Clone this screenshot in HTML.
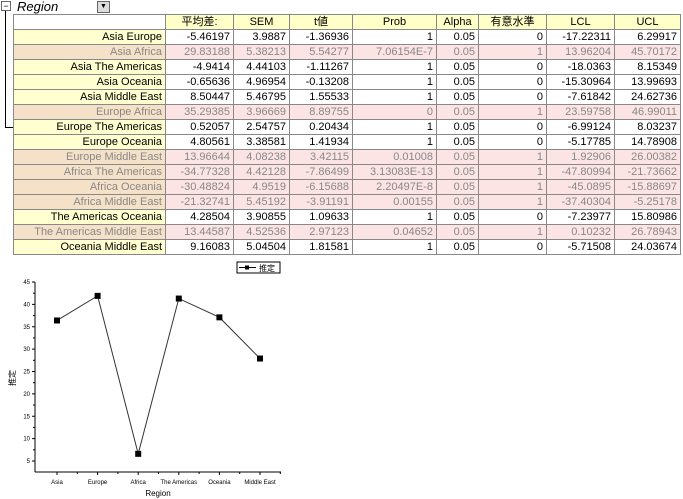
<!DOCTYPE html>
<html><head><meta charset="utf-8"><style>
body{margin:0;width:683px;height:499px;background:#fff;position:relative;overflow:hidden;font-family:"Liberation Sans","Noto Sans CJK JP",sans-serif}
table{position:absolute;left:13px;top:14px;border-collapse:collapse;font-size:11px;table-layout:fixed}
td{border:1px solid #888;height:14px;padding:0 3px;text-align:right;white-space:nowrap;overflow:hidden;line-height:14px}
tr.h td{background:#ffffc8;text-align:center}
td.rh{background:#ffffd0}
tr.s td{background:#fce4e4;color:#888}
tr.s td.rh{background:#f5e1c8}
tr.h td.rh{background:#fff}
</style></head><body>
<div style="position:absolute;left:1px;top:1px;width:8px;height:8px;border:1px solid #666;font-size:9px;line-height:8px;text-align:center">−</div>
<div style="position:absolute;left:5px;top:11px;width:8px;height:116px;border-left:1px solid #000;border-bottom:1px solid #000"></div>
<div style="position:absolute;left:17px;top:-1px;font-size:13px;font-style:italic">Region</div>
<div style="position:absolute;left:97px;top:1px;width:11px;height:10px;border:1px solid #666;background:#ddd;font-size:7px;line-height:10px;text-align:center">▼</div>
<table>
<colgroup><col style="width:152px"><col style="width:68px"><col style="width:56px"><col style="width:63px"><col style="width:84px"><col style="width:42px"><col style="width:68px"><col style="width:68px"><col style="width:66px"></colgroup>
<tr class="h"><td class="rh"></td><td>平均差:</td><td>SEM</td><td>t値</td><td>Prob</td><td>Alpha</td><td>有意水準</td><td>LCL</td><td>UCL</td></tr>
<tr><td class="rh">Asia Europe</td><td>-5.46197</td><td>3.9887</td><td>-1.36936</td><td>1</td><td>0.05</td><td>0</td><td>-17.22311</td><td>6.29917</td></tr>
<tr class="s"><td class="rh">Asia Africa</td><td>29.83188</td><td>5.38213</td><td>5.54277</td><td>7.06154E-7</td><td>0.05</td><td>1</td><td>13.96204</td><td>45.70172</td></tr>
<tr><td class="rh">Asia The Americas</td><td>-4.9414</td><td>4.44103</td><td>-1.11267</td><td>1</td><td>0.05</td><td>0</td><td>-18.0363</td><td>8.15349</td></tr>
<tr><td class="rh">Asia Oceania</td><td>-0.65636</td><td>4.96954</td><td>-0.13208</td><td>1</td><td>0.05</td><td>0</td><td>-15.30964</td><td>13.99693</td></tr>
<tr><td class="rh">Asia Middle East</td><td>8.50447</td><td>5.46795</td><td>1.55533</td><td>1</td><td>0.05</td><td>0</td><td>-7.61842</td><td>24.62736</td></tr>
<tr class="s"><td class="rh">Europe Africa</td><td>35.29385</td><td>3.96669</td><td>8.89755</td><td>0</td><td>0.05</td><td>1</td><td>23.59758</td><td>46.99011</td></tr>
<tr><td class="rh">Europe The Americas</td><td>0.52057</td><td>2.54757</td><td>0.20434</td><td>1</td><td>0.05</td><td>0</td><td>-6.99124</td><td>8.03237</td></tr>
<tr><td class="rh">Europe Oceania</td><td>4.80561</td><td>3.38581</td><td>1.41934</td><td>1</td><td>0.05</td><td>0</td><td>-5.17785</td><td>14.78908</td></tr>
<tr class="s"><td class="rh">Europe Middle East</td><td>13.96644</td><td>4.08238</td><td>3.42115</td><td>0.01008</td><td>0.05</td><td>1</td><td>1.92906</td><td>26.00382</td></tr>
<tr class="s"><td class="rh">Africa The Americas</td><td>-34.77328</td><td>4.42128</td><td>-7.86499</td><td>3.13083E-13</td><td>0.05</td><td>1</td><td>-47.80994</td><td>-21.73662</td></tr>
<tr class="s"><td class="rh">Africa Oceania</td><td>-30.48824</td><td>4.9519</td><td>-6.15688</td><td>2.20497E-8</td><td>0.05</td><td>1</td><td>-45.0895</td><td>-15.88697</td></tr>
<tr class="s"><td class="rh">Africa Middle East</td><td>-21.32741</td><td>5.45192</td><td>-3.91191</td><td>0.00155</td><td>0.05</td><td>1</td><td>-37.40304</td><td>-5.25178</td></tr>
<tr><td class="rh">The Americas Oceania</td><td>4.28504</td><td>3.90855</td><td>1.09633</td><td>1</td><td>0.05</td><td>0</td><td>-7.23977</td><td>15.80986</td></tr>
<tr class="s"><td class="rh">The Americas Middle East</td><td>13.44587</td><td>4.52536</td><td>2.97123</td><td>0.04652</td><td>0.05</td><td>1</td><td>0.10232</td><td>26.78943</td></tr>
<tr><td class="rh">Oceania Middle East</td><td>9.16083</td><td>5.04504</td><td>1.81581</td><td>1</td><td>0.05</td><td>0</td><td>-5.71508</td><td>24.03674</td></tr>
</table>
<svg id="chart" width="683" height="499" style="position:absolute;left:0;top:0" font-family="Liberation Sans, Noto Sans CJK JP, sans-serif"></svg>
<script>
const categories=["Asia","Europe","Africa","The Americas","Oceania","Middle East"];
const values=[36.4,41.9,6.6,41.3,37.1,27.9];
const yTicks=[5,10,15,20,25,30,35,40,45];
const NS="http://www.w3.org/2000/svg";
const svg=document.getElementById('chart');
const x0=35,x1=281,yB=472;
const xS=i=>57+i*40.6;
const yS=v=>461-(v-5)*(461-282)/40;
function mk(t,a,p){const e=document.createElementNS(NS,t);for(const k in a)e.setAttribute(k,a[k]);(p||svg).appendChild(e);return e;}
let ax=mk('line',{x1:x0,y1:yB,x2:x1,y2:yB,stroke:'#000','stroke-width':1});


let ay=mk('line',{x1:x0,y1:yB,x2:x0,y2:282,stroke:'#000','stroke-width':1});


yTicks.forEach(v=>{const y=yS(v);mk('line',{x1:x0-3,y1:y,x2:x0,y2:y,stroke:'#000'});
const t=mk('text',{x:x0-5,y:y+2,'font-size':6,'text-anchor':'end'});t.textContent=v;


if(v<45)mk('line',{x1:x0-2,y1:yS(v+2.5),x2:x0,y2:yS(v+2.5),stroke:'#000'});});
categories.forEach((c,i)=>{const x=xS(i);mk('line',{x1:x,y1:yB,x2:x,y2:yB+3,stroke:'#000'});
mk('line',{x1:x+20.3,y1:yB,x2:x+20.3,y2:yB+2,stroke:'#000'});
const t=mk('text',{x:x,y:yB+12,'font-size':6,'text-anchor':'middle'});t.textContent=c;

});
const line=mk('polyline',{points:values.map((v,i)=>xS(i)+','+yS(v)).join(' '),fill:'none',stroke:'#333','stroke-width':1});


values.forEach((v,i)=>{const r=mk('rect',{x:xS(i)-3,y:yS(v)-3,width:6,height:6,fill:'#000'});

});
const xt=mk('text',{x:158,y:496,'font-size':8,'text-anchor':'middle'});xt.textContent='Region';


const yt=mk('text',{x:15,y:378,'font-size':8,'text-anchor':'middle',transform:'rotate(-90 15 378)'});yt.textContent='推定';


const lg=mk('g',{});


mk('rect',{x:237,y:262,width:43,height:11,fill:'#fff',stroke:'#000'},lg);
mk('line',{x1:239,y1:267.5,x2:256,y2:267.5,stroke:'#000'},lg);
mk('rect',{x:245,y:265.5,width:4,height:4,fill:'#000'},lg);
const lt=mk('text',{x:259,y:271,'font-size':8},lg);lt.textContent='推定';
</script>
</body></html>
